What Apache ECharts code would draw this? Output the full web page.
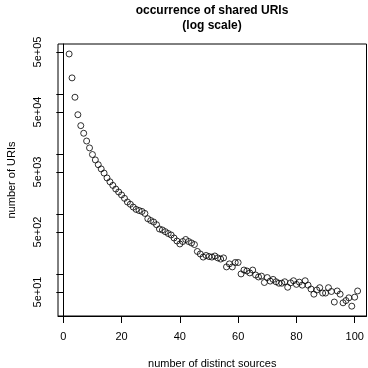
<!DOCTYPE html>
<html>
<head>
<meta charset="utf-8">
<script src="https://cdn.jsdelivr.net/npm/echarts@6/dist/echarts.min.js"></script>
<style>html,body{margin:0;padding:0;background:#fff}#c{width:368px;height:368px}</style>
</head>
<body>
<div id="c"></div>
<script>
const sources = [];
for (let i = 2; i <= 101; i++) sources.push(i);
const uriCounts = [
  463000, 185000, 88000, 45000, 29600, 22100, 16400, 12600, 9770, 7940,
  6610, 5620, 4790, 3980, 3430, 2990, 2600, 2320, 2070, 1820,
  1580, 1450, 1300, 1190, 1140, 1100, 1020, 832, 776, 733,
  661, 561, 540, 506, 472, 446, 397, 354, 316, 347,
  375, 347, 328, 309, 237, 215, 191, 203, 195, 191,
  199, 185, 177, 185, 131, 147, 131, 155, 155, 100,
  116, 112, 104, 116, 96, 89, 92, 72, 87, 76,
  81, 74, 70, 70, 74, 60, 71, 77, 67, 73,
  65, 77, 65, 56, 46, 54, 59, 48, 48, 59,
  51, 34, 52, 46, 33, 36, 40, 29, 41, 52
];
const xTicks = [0, 20, 40, 60, 80, 100];
const yTicks = [50, 100, 500, 1000, 5000, 10000, 50000, 100000, 500000];
const yLabels = [50, 500, 5000, 50000, 500000];

const FONT = "'Liberation Sans', Arial, sans-serif";
function rExp(v) {
  const e = Math.floor(Math.log10(v) + 1e-9);
  const m = Math.round(v / Math.pow(10, e));
  return m + 'e+' + String(e).padStart(2, '0');
}
const chart = echarts.init(document.getElementById('c'), null, {renderer: 'canvas'});
chart.setOption({
  animation: false,
  backgroundColor: '#fff',
  title: {
    text: 'occurrence of shared URIs\n(log scale)',
    left: 212, top: 3, padding: 0, textAlign: 'center',
    textStyle: {fontFamily: FONT, fontSize: 12, fontWeight: 'bold', color: '#000', lineHeight: 15}
  },
  grid: {left: 58, top: 44, right: 1.5, bottom: 52, show: true, borderColor: '#000', borderWidth: 1,
         backgroundColor: 'transparent', containLabel: false, outerBoundsMode: 'none'},
  xAxis: {
    type: 'value', min: -1.82, max: 104.05,
    name: 'number of distinct sources', nameLocation: 'middle', nameGap: 42,
    nameTextStyle: {fontFamily: FONT, fontSize: 11, color: '#000'},
    axisLine: {show: true, lineStyle: {color: '#000', width: 1}},
    axisTick: {show: true, inside: false, length: 7, lineStyle: {color: '#000'}, customValues: xTicks},
    axisLabel: {fontFamily: FONT, fontSize: 11, color: '#000', margin: 15, customValues: xTicks},
    splitLine: {show: false}
  },
  yAxis: {
    type: 'log', logBase: 10, min: 19.9, max: 679000,
    name: 'number of URIs', nameLocation: 'middle', nameGap: 41,
    nameTextStyle: {fontFamily: FONT, fontSize: 11, color: '#000'},
    axisLine: {show: true, lineStyle: {color: '#000', width: 1}},
    axisTick: {show: true, inside: false, length: 7, lineStyle: {color: '#000'}, customValues: yTicks},
    axisLabel: {fontFamily: FONT, fontSize: 11, color: '#000', margin: 15, rotate: 90, inside: false, customValues: yLabels, formatter: rExp},
    splitLine: {show: false}
  },
  series: [{
    type: 'scatter',
    data: sources.map((s, i) => [s, uriCounts[i]]),
    symbol: 'circle', symbolSize: 6,
    itemStyle: {color: 'rgba(0,0,0,0)', borderColor: '#000', borderWidth: 1}
  }]
});
</script>
</body>
</html>
